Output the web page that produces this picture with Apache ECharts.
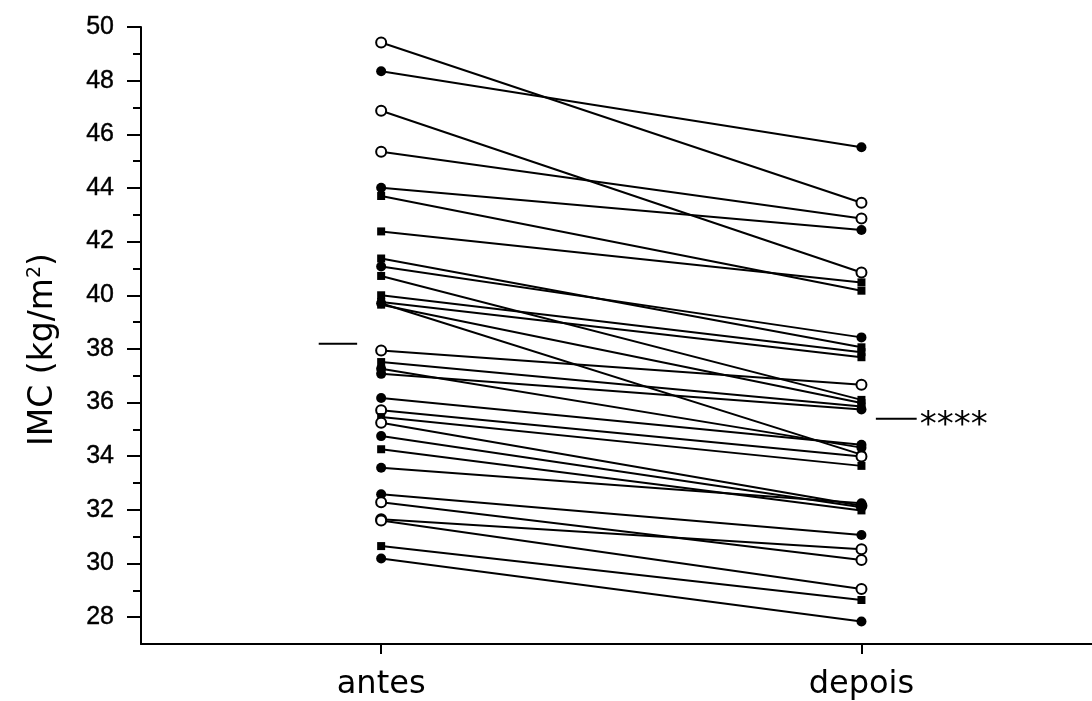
<!DOCTYPE html>
<html>
<head>
<meta charset="utf-8">
<script src="https://cdn.jsdelivr.net/npm/echarts@6/dist/echarts.min.js"></script>
<style>
html,body{margin:0;padding:0;background:#fff;}
#chart{width:1092px;height:701px;}
</style>
</head>
<body>
<div id="chart"></div>
<script>
// ---- data ----
const categories = ['antes', 'depois'];
const antes  = [49.42,48.35,46.88,45.35,44.01,43.70,42.38,41.37,41.07,40.72,40.00,39.75,39.70,39.65,37.94,37.51,37.26,37.07,36.17,35.71,35.46,35.25,34.75,34.26,33.57,32.58,32.28,31.65,31.60,30.65,30.19];
const depois = [43.45,45.52,40.85,42.86,42.43,40.17,40.48,38.06,38.43,36.10,37.88,37.69,34.06,35.98,36.66,35.85,34.32,35.74,34.43,33.99,33.64,32.15,32.10,31.98,32.25,31.06,30.13,30.53,29.05,28.64,27.84];
const markers = ['o','f','o','o','f','s','s','s','f','s','s','s','f','s','o','s','f','f','f','o','s','o','f','s','f','f','o','o','o','s','f'];
const meanAntes = 38.19;
const meanDepois = 35.40;
const significance = '****';
const majorTicks = [28,30,32,34,36,38,40,42,44,46,48,50];
const minorTicks = [29,31,33,35,37,39,41,43,45,47,49];

const WIDE = 'DejaVu Sans, sans-serif';
const ARIAL = 'Liberation Sans, Arial, sans-serif';

const series = [];
for (let i = 0; i < antes.length; i++) {
  const m = markers[i];
  series.push({
    type: 'line',
    silent: true,
    data: [[0, antes[i]], [1, depois[i]]],
    symbol: m === 's' ? 'rect' : 'circle',
    symbolSize: m === 's' ? 8 : 10,
    showAllSymbol: true,
    lineStyle: { color: '#000', width: 2 },
    itemStyle: {
      color: m === 'o' ? '#fff' : '#000',
      borderColor: '#000',
      borderWidth: m === 'o' ? 2 : 0
    },
    emphasis: { disabled: true },
    animation: false,
    z: 3
  });
}
// mean markers
series.push({
  type: 'line', silent: true, animation: false, symbol: 'none',
  data: [[-0.13, meanAntes], [-0.05, meanAntes]],
  lineStyle: { color: '#000', width: 2 }
});
series.push({
  type: 'line', silent: true, animation: false, symbol: 'none',
  data: [[1.03, meanDepois], [1.115, meanDepois]],
  lineStyle: { color: '#000', width: 2 },
  endLabel: { show: true, formatter: significance, color: '#000', fontFamily: WIDE, fontSize: 34, distance: 3, offset: [0, 8] }
});

const chart = echarts.init(document.getElementById('chart'), null, { renderer: 'canvas' });
chart.setOption({
  backgroundColor: '#fff',
  animation: false,
  grid: { left: 141, right: 0, top: 27, bottom: 56, containLabel: false },
  xAxis: {
    type: 'value', min: -0.5, max: 1.48,
    axisLine: { show: true, onZero: false, lineStyle: { color: '#000', width: 2 } },
    axisTick: { show: true, customValues: [0, 1], length: 10, lineStyle: { color: '#000', width: 2 } },
    axisLabel: { customValues: [0, 1], formatter: v => categories[Math.round(v)], color: '#000', fontFamily: WIDE, fontSize: 32, margin: 25 },
    splitLine: { show: false }
  },
  yAxis: [{
    type: 'value', min: 27, max: 50, position: 'left',
    name: 'IMC (kg/m{sup|2})', nameLocation: 'middle', nameGap: 80,
    nameTextStyle: { color: '#000', fontFamily: WIDE, fontSize: 33, padding: [0, 28, 0, 0], rich: { sup: { fontSize: 19, verticalAlign: 'top', padding: [0,0,16,0], fontFamily: WIDE, color:'#000' } } },
    axisLine: { show: true, onZero: false, lineStyle: { color: '#000', width: 2 } },
    axisTick: { show: true, customValues: majorTicks, length: 14, lineStyle: { color: '#000', width: 2 } },
    axisLabel: { customValues: majorTicks, color: '#000', fontFamily: ARIAL, fontSize: 25, margin: 27, textBorderColor: '#000', textBorderWidth: 0.4 },
    splitLine: { show: false }
  }, {
    type: 'value', min: 27, max: 50, position: 'left',
    axisLine: { show: false, onZero: false },
    axisTick: { show: true, customValues: minorTicks, length: 8, lineStyle: { color: '#000', width: 2 } },
    axisLabel: { show: false },
    splitLine: { show: false }
  }],
  series: series
});
</script>
</body>
</html>
